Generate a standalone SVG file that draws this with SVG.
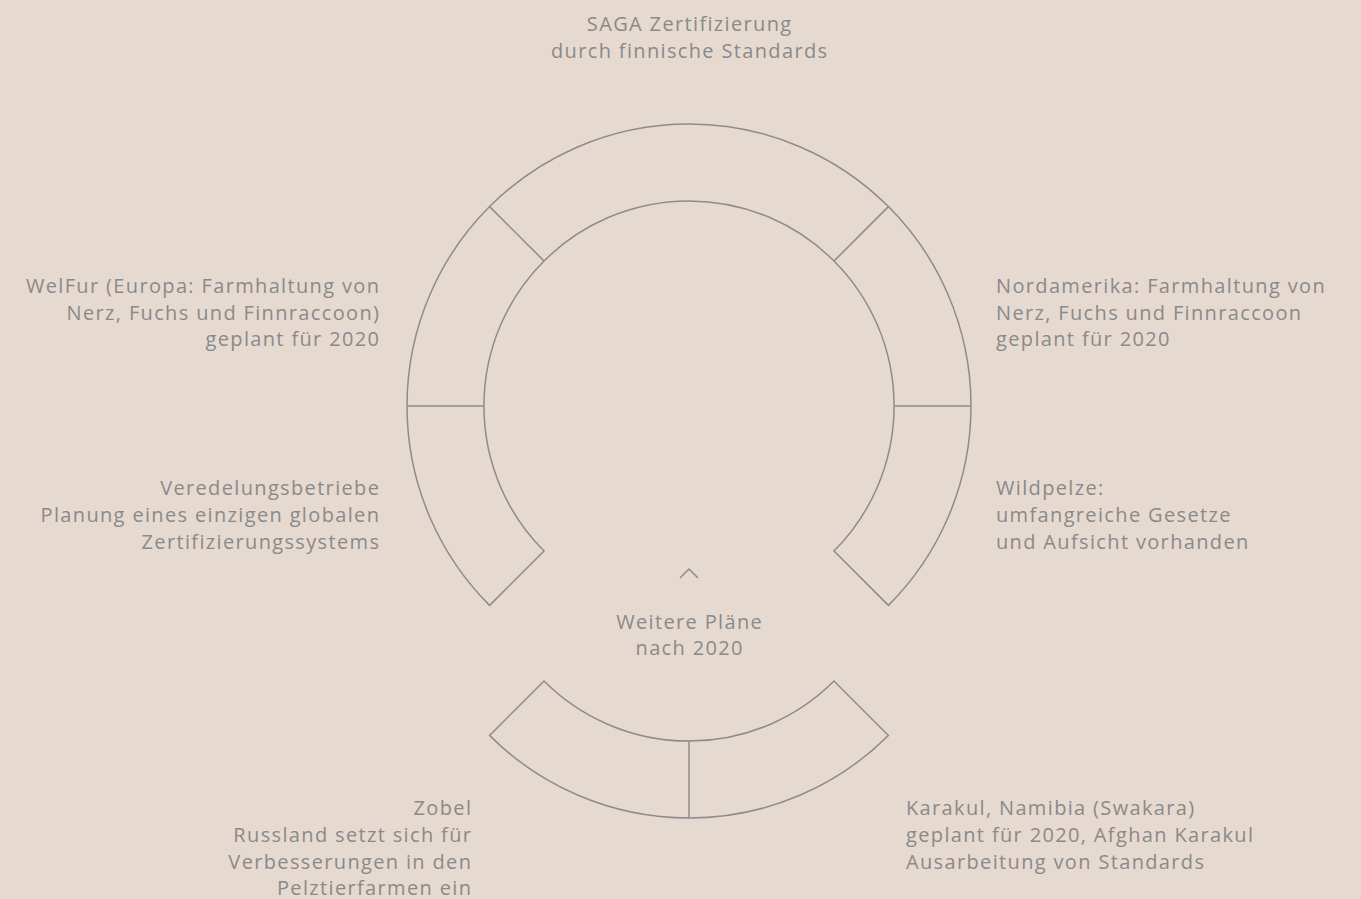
<svg xmlns="http://www.w3.org/2000/svg" width="1361" height="899" viewBox="0 0 1361 899">
<style>
.bg{fill:#e6d9d0}
.ln{fill:none;stroke:#8c8c8c;stroke-width:1.5}
text{font-family:"Open Sans","Noto Sans",sans-serif;font-size:20px;letter-spacing:1.35px;fill:#8a8a8a}
.r{text-anchor:end}
.c{text-anchor:middle}
</style>
<rect class="bg" x="0" y="0" width="1361" height="899"/>
<g id="connectors">
<path id="chevron" class="ln" d="M680,578 L689,569 L698,578"/>
</g>
<g id="ring">
<path class="ln" d="M489.6,605.4 A282,282 0 1 1 888.4,605.4 L834,551 A205,205 0 1 0 544,551 Z"/>
<line class="ln" x1="489.6" y1="206.6" x2="544" y2="261"/>
<line class="ln" x1="888.4" y1="206.6" x2="834" y2="261"/>
<line class="ln" x1="407" y1="406" x2="484" y2="406"/>
<line class="ln" x1="971" y1="406" x2="894" y2="406"/>
</g>
<g id="bottom-ring">
<path class="ln" d="M489.6,735.4 A282,282 0 0 0 888.4,735.4 L834,681 A205,205 0 0 1 544,681 Z"/>
<line class="ln" x1="689" y1="741" x2="689" y2="818"/>
</g>
<g id="node-saga">
<text class="c" x="689.7" y="31">SAGA Zertifizierung</text>
<text class="c" x="689.7" y="58">durch finnische Standards</text>
</g>
<g id="node-welfur">
<text class="r" x="380.3" y="293">WelFur (Europa: Farmhaltung von</text>
<text class="r" x="380.3" y="320">Nerz, Fuchs und Finnraccoon)</text>
<text class="r" x="380.3" y="346">geplant für 2020</text>
</g>
<g id="node-nordamerika">
<text x="996" y="293">Nordamerika: Farmhaltung von</text>
<text x="996" y="320">Nerz, Fuchs und Finnraccoon</text>
<text x="996" y="346">geplant für 2020</text>
</g>
<g id="node-veredelung">
<text class="r" x="380.3" y="495">Veredelungsbetriebe</text>
<text class="r" x="380.3" y="522">Planung eines einzigen globalen</text>
<text class="r" x="380.3" y="549">Zertifizierungssystems</text>
</g>
<g id="node-wildpelze">
<text x="996" y="495">Wildpelze:</text>
<text x="996" y="522">umfangreiche Gesetze</text>
<text x="996" y="549">und Aufsicht vorhanden</text>
</g>
<g id="node-weitere">
<text class="c" x="689.7" y="629">Weitere Pläne</text>
<text class="c" x="689.7" y="655">nach 2020</text>
</g>
<g id="node-zobel">
<text class="r" x="472.3" y="815">Zobel</text>
<text class="r" x="472.3" y="842">Russland setzt sich für</text>
<text class="r" x="472.3" y="869">Verbesserungen in den</text>
<text class="r" x="472.3" y="895">Pelztierfarmen ein</text>
</g>
<g id="node-karakul">
<text x="906" y="815">Karakul, Namibia (Swakara)</text>
<text x="906" y="842">geplant für 2020, Afghan Karakul</text>
<text x="906" y="869">Ausarbeitung von Standards</text>
</g>
</svg>
